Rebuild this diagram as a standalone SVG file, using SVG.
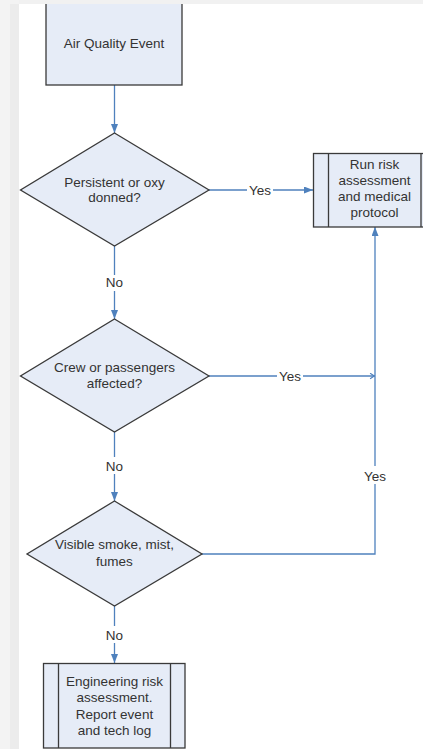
<svg xmlns="http://www.w3.org/2000/svg" width="423" height="749" viewBox="0 0 423 749">
<defs>
<style>
.shape{fill:#e6ecf7;stroke:#3a3a3a;stroke-width:1.3}
.inner{stroke:#3a3a3a;stroke-width:1.3;fill:none}
.conn{fill:none;stroke:#4f81bd;stroke-width:1.3}
.t{font-family:"Liberation Sans",Arial,sans-serif;font-size:13.5px;fill:#333333;text-anchor:middle}
.lbl{fill:#ffffff}
</style>
<marker id="arr" viewBox="0 0 9 7" refX="9" refY="3.5" markerWidth="9" markerHeight="7" markerUnits="userSpaceOnUse" orient="auto">
<path d="M0,0 L9,3.5 L0,7 Z" fill="#4f81bd"/>
</marker>
<marker id="open" viewBox="0 0 10 10" refX="10" refY="5" markerWidth="7" markerHeight="7" markerUnits="userSpaceOnUse" orient="auto">
<path d="M3,1 L9,5 L3,9" fill="none" stroke="#4f81bd" stroke-width="1.6"/>
</marker>
</defs>
<rect x="0" y="0" width="423" height="749" fill="#ffffff"/>

<g id="connectors">
<line class="conn" x1="114.5" y1="85" x2="114.5" y2="133" marker-end="url(#arr)"/>
<line class="conn" x1="209" y1="190" x2="313" y2="190" marker-end="url(#arr)"/>
<line class="conn" x1="114.5" y1="246" x2="114.5" y2="319" marker-end="url(#arr)"/>
<line class="conn" x1="209" y1="376" x2="375" y2="376" marker-end="url(#open)"/>
<line class="conn" x1="114.5" y1="432" x2="114.5" y2="501" marker-end="url(#arr)"/>
<polyline class="conn" points="202,554 375,554 375,227" marker-end="url(#arr)"/>
<line class="conn" x1="114.5" y1="606" x2="114.5" y2="663" marker-end="url(#arr)"/>
<rect class="lbl" x="247" y="183" width="26" height="14"/>
<text class="t" x="260" y="195">Yes</text>
<rect class="lbl" x="103" y="275" width="23" height="16"/>
<text class="t" x="114.5" y="286.5">No</text>
<rect class="lbl" x="277" y="369" width="26" height="14"/>
<text class="t" x="290" y="380.5">Yes</text>
<rect class="lbl" x="103" y="457" width="23" height="17"/>
<text class="t" x="114.5" y="471">No</text>
<rect class="lbl" x="362" y="466" width="26" height="18"/>
<text class="t" x="375" y="480.5">Yes</text>
<rect class="lbl" x="103" y="626" width="23" height="17"/>
<text class="t" x="114.5" y="639.5">No</text>
</g>

<g id="node-air-quality-event">
<rect class="shape" x="46" y="0" width="136" height="85"/>
<text class="t" x="114" y="48">Air Quality Event</text>
</g>

<g id="node-persistent">
<polygon class="shape" points="114.5,133 209,190 114.5,246 20.5,190"/>
<text class="t" x="114.5" y="187">Persistent or oxy</text>
<text class="t" x="114.5" y="202">donned?</text>
</g>

<g id="node-run-risk">
<rect class="shape" x="313.5" y="153.5" width="123" height="73.5"/>
<line class="inner" x1="328.5" y1="153.5" x2="328.5" y2="227"/>
<line class="inner" x1="421" y1="153.5" x2="421" y2="227"/>
<text class="t" x="374.5" y="168.5">Run risk</text>
<text class="t" x="374.5" y="184.8">assessment</text>
<text class="t" x="374.5" y="201">and medical</text>
<text class="t" x="374.5" y="217.3">protocol</text>
</g>

<g id="node-crew">
<polygon class="shape" points="114.5,319 209,376 114.5,432 20.5,376"/>
<text class="t" x="114.5" y="371.7">Crew or passengers</text>
<text class="t" x="114.5" y="388.3">affected?</text>
</g>

<g id="node-visible">
<polygon class="shape" points="114.5,501 202,554 114.5,606 27,554"/>
<text class="t" x="114.5" y="549.3">Visible smoke, mist,</text>
<text class="t" x="114.5" y="566">fumes</text>
</g>

<g id="node-engineering">
<rect class="shape" x="43.5" y="663.5" width="141.5" height="84.5"/>
<line class="inner" x1="58.5" y1="663.5" x2="58.5" y2="748"/>
<line class="inner" x1="170.5" y1="663.5" x2="170.5" y2="748"/>
<text class="t" x="114.5" y="685.7">Engineering risk</text>
<text class="t" x="114.5" y="702">assessment.</text>
<text class="t" x="114.5" y="718.5">Report event</text>
<text class="t" x="114.5" y="735">and tech log</text>
</g>

<rect x="0" y="0" width="423" height="4" fill="#f1f1f1"/>
<rect x="0" y="0" width="19" height="749" fill="#f3f3f3"/>
<rect x="10" y="4" width="9" height="745" fill="#ececec"/>
</svg>
